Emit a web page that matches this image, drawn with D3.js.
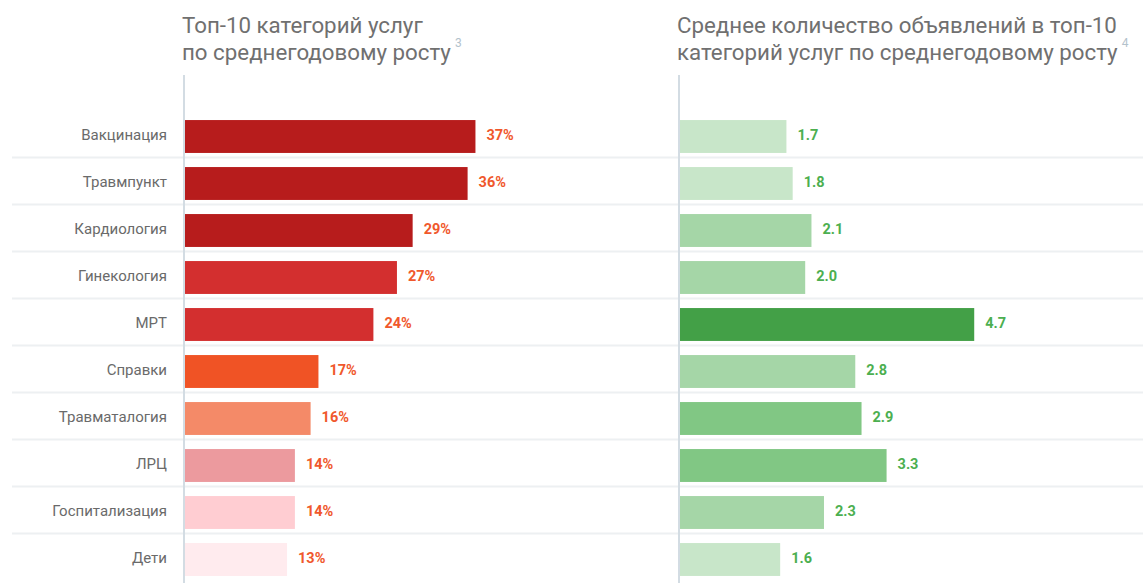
<!DOCTYPE html>
<html>
<head>
<meta charset="utf-8">
<script src="https://cdn.jsdelivr.net/npm/d3@7"></script>
<style>
  body { margin: 0; background: #fff; }
  svg { font-family: Roboto, "Noto Sans", sans-serif; }
</style>
</head>
<body>
<div id="chart"></div>
<script>
const categories = ["Вакцинация", "Травмпункт", "Кардиология", "Гинекология", "МРТ",
  "Справки", "Травматалогия", "ЛРЦ", "Госпитализация", "Дети"];
const growth = [37, 36, 29, 27, 24, 17, 16, 14, 14, 13];
const avgAds = [1.7, 1.8, 2.1, 2.0, 4.7, 2.8, 2.9, 3.3, 2.3, 1.6];

const leftTitle = ["Топ-10 категорий услуг", "по среднегодовому росту"];
const rightTitle = ["Среднее количество объявлений в топ-10", "категорий услуг по среднегодовому росту"];

const width = 1143;
const height = 583;

const svg = d3.select("#chart")
  .append("svg")
    .attr("width", width)
    .attr("height", height);

const y = d3.scaleBand()
  .domain(categories)
  .range([113, 583])
  .paddingInner(0.3)
  .paddingOuter(0.15);

// row separators
svg.append("g")
  .selectAll("line")
  .data(categories.slice(0, -1))
  .enter()
  .append("line")
    .attr("x1", 12)
    .attr("x2", width)
    .attr("y1", d => y(d) + y.bandwidth() + 4.5)
    .attr("y2", d => y(d) + y.bandwidth() + 4.5)
    .attr("stroke", "#edf0f2")
    .attr("stroke-width", 2);

function drawTitle(x0, lines, note) {
  const t = svg.append("text")
    .attr("x", x0)
    .attr("y", 33)
    .style("font-size", "22.3px")
    .attr("fill", "#707070");
  lines.forEach((l, i) => {
    t.append("tspan").attr("x", x0).attr("dy", i === 0 ? 0 : 27).text(l);
  });
  t.append("tspan")
    .attr("dx", 4)
    .attr("dy", -13)
    .style("font-size", "12px")
    .attr("fill", "#b3c2cc")
    .text(note);
}

// left panel
const xLeft = d3.scaleLinear().domain([0, 40]).range([184, 184 + 314]);
const leftColor = d3.scaleOrdinal()
  .domain(categories)
  .range(["#b71c1c", "#b71c1c", "#b71c1c", "#d32f2f", "#d32f2f",
          "#f05325", "#f48a68", "#ec9a9e", "#ffcdd2", "#ffebee"]);

drawTitle(182, leftTitle, "3");

svg.append("g")
  .selectAll("rect")
  .data(categories)
  .enter()
  .append("rect")
    .attr("x", xLeft(0) + 1)
    .attr("y", d => y(d))
    .attr("width", (d, i) => xLeft(growth[i]) - xLeft(0))
    .attr("height", y.bandwidth())
    .attr("fill", d => leftColor(d));

svg.append("g")
  .selectAll("text")
  .data(categories)
  .enter()
  .append("text")
    .attr("x", 167)
    .attr("y", d => y(d) + y.bandwidth() / 2 - 1.5)
    .attr("dy", "0.35em")
    .attr("text-anchor", "end")
    .style("font-size", "15px")
    .attr("fill", "#6a6a6a")
    .text(d => d);

svg.append("g")
  .selectAll("text")
  .data(categories)
  .enter()
  .append("text")
    .attr("x", (d, i) => xLeft(growth[i]) + 12)
    .attr("y", d => y(d) + y.bandwidth() / 2 - 1.5)
    .attr("dy", "0.35em")
    .style("font-size", "14.5px")
    .style("font-weight", "bold")
    .attr("fill", "#f0582c")
    .text((d, i) => growth[i] + "%");

svg.append("line")
  .attr("x1", xLeft(0)).attr("x2", xLeft(0))
  .attr("y1", 75).attr("y2", height)
  .attr("stroke", "#d3dce3")
  .attr("stroke-width", 2);

// right panel
const xRight = d3.scaleLinear().domain([0, 5]).range([679, 679 + 313]);
const rightColor = d3.scaleThreshold()
  .domain([1.95, 2.85, 4])
  .range(["#c8e6c9", "#a5d6a7", "#81c784", "#43a047"]);

drawTitle(677, rightTitle, "4");

svg.append("g")
  .selectAll("rect")
  .data(categories)
  .enter()
  .append("rect")
    .attr("x", xRight(0) + 1)
    .attr("y", d => y(d))
    .attr("width", (d, i) => xRight(avgAds[i]) - xRight(0))
    .attr("height", y.bandwidth())
    .attr("fill", (d, i) => rightColor(avgAds[i]));

svg.append("g")
  .selectAll("text")
  .data(categories)
  .enter()
  .append("text")
    .attr("x", (d, i) => xRight(avgAds[i]) + 12)
    .attr("y", d => y(d) + y.bandwidth() / 2 - 1.5)
    .attr("dy", "0.35em")
    .style("font-size", "14.5px")
    .style("font-weight", "bold")
    .attr("fill", "#4caf50")
    .text((d, i) => avgAds[i].toFixed(1));

svg.append("line")
  .attr("x1", xRight(0)).attr("x2", xRight(0))
  .attr("y1", 75).attr("y2", height)
  .attr("stroke", "#d3dce3")
  .attr("stroke-width", 2);
</script>
</body>
</html>
